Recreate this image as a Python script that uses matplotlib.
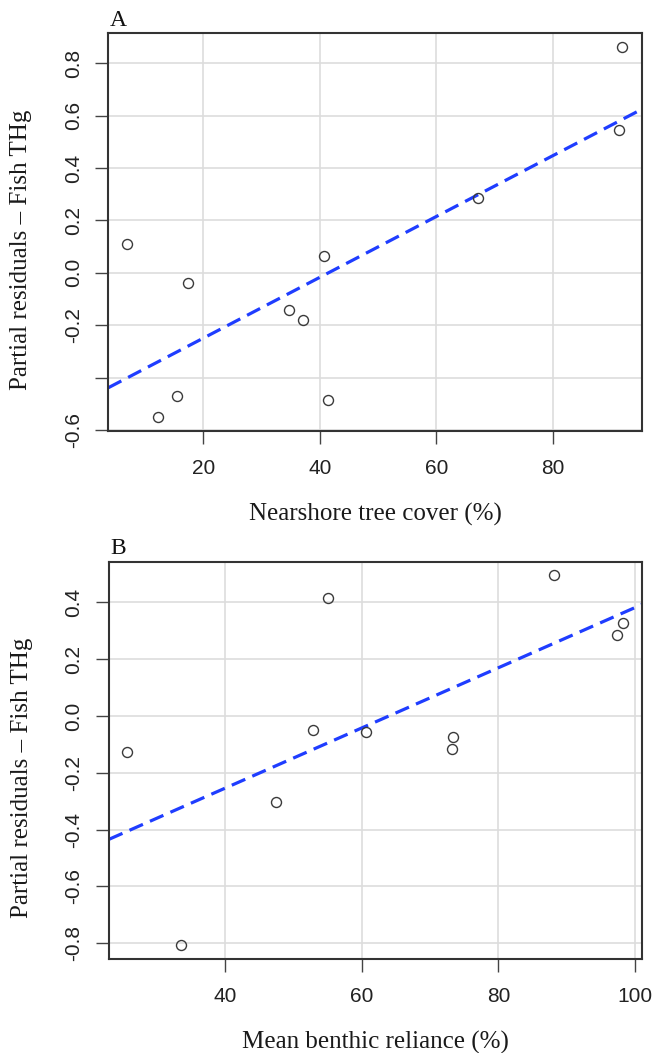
import matplotlib
matplotlib.use("Agg")
import matplotlib.pyplot as plt

# panel A: nearshore tree cover
tree_cover = [7.0, 17.4, 12.2, 15.5, 34.7, 37.2, 40.8, 41.4, 67.2, 91.3, 91.8]
resid_a = [0.111, -0.038, -0.550, -0.472, -0.143, -0.179, 0.066, -0.484, 0.284, 0.546, 0.861]
fit_a = (-0.4825, 0.01163)  # intercept, slope
xticks_a = [20, 40, 60, 80]
yticks_a = [-0.6, -0.4, -0.2, 0.0, 0.2, 0.4, 0.6, 0.8]
ylabels_a = ["-0.6", "", "-0.2", "0.0", "0.2", "0.4", "0.6", "0.8"]

# panel B: mean benthic reliance
benthic = [25.7, 33.5, 47.4, 52.8, 55.1, 60.55, 73.3, 73.2, 88.2, 97.4, 98.3]
resid_b = [-0.128, -0.805, -0.304, -0.049, 0.415, -0.055, -0.074, -0.116, 0.495, 0.285, 0.327]
fit_b = (-0.6775, 0.01059)
xticks_b = [40, 60, 80, 100]
yticks_b = [-0.8, -0.6, -0.4, -0.2, 0.0, 0.2, 0.4]
ylabels_b = ["-0.8", "-0.6", "-0.4", "-0.2", "0.0", "0.2", "0.4"]

YLAB = "Partial residuals \u2013 Fish THg"
SERIF = ["Liberation Serif", "DejaVu Serif"]
SANS = ["Liberation Sans", "DejaVu Sans"]

fig = plt.figure(figsize=(6.54, 10.53), dpi=100)
ax_a = fig.add_axes([0.1656, 0.5910, 0.8156, 0.3774])
ax_b = fig.add_axes([0.1667, 0.0893, 0.8145, 0.3773])


def draw_panel(ax, x, y, fit, xticks, yticks, ylabels, xlim, ylim, xlab, tag):
    ax.set_axisbelow(True)
    ax.grid(True, color="#dddddd", lw=1.2)
    ax.axline((0, fit[0]), slope=fit[1], color="#1f3dff", lw=2.3,
              dashes=(4.6, 2.4), zorder=2)
    ax.plot(x, y, "o", ms=7.2, mfc="none", mec="#3a3a3a", mew=1.0, zorder=3)
    ax.set_xlim(*xlim)
    ax.set_ylim(*ylim)
    ax.set_xticks(xticks)
    ax.set_xticklabels([str(t) for t in xticks], family=SANS, fontsize=15, color="#222222")
    ax.set_yticks(yticks)
    ax.set_yticklabels(ylabels, family=SANS, fontsize=15, color="#222222",
                       rotation=90, va="center")
    ax.tick_params(axis="both", length=9.4, width=1.0, color="#444444")
    ax.tick_params(axis="x", pad=11)
    ax.tick_params(axis="y", pad=9)
    for s in ax.spines.values():
        s.set_color("#333333")
        s.set_linewidth(1.5)
    ax.set_xlabel(xlab, family=SERIF, fontsize=18, color="#1a1a1a", va="center")
    ax.xaxis.set_label_coords(0.5, -0.21)
    ax.set_ylabel(YLAB, family=SERIF, fontsize=18, color="#1a1a1a", va="center")
    ax.yaxis.set_label_coords(-0.163, 0.455)
    ax.text(0.003, 1.006, tag, transform=ax.transAxes, family=SERIF, fontsize=17,
            ha="left", va="bottom", color="#111111")


draw_panel(ax_a, tree_cover, resid_a, fit_a, xticks_a, yticks_a, ylabels_a,
           (3.74, 95.2), (-0.603, 0.915), "Nearshore tree cover (%)", "A")
draw_panel(ax_b, benthic, resid_b, fit_b, xticks_b, yticks_b, ylabels_b,
           (23.0, 100.98), (-0.855, 0.543), "Mean benthic reliance (%)", "B")

fig.savefig("out.png", dpi=100)
